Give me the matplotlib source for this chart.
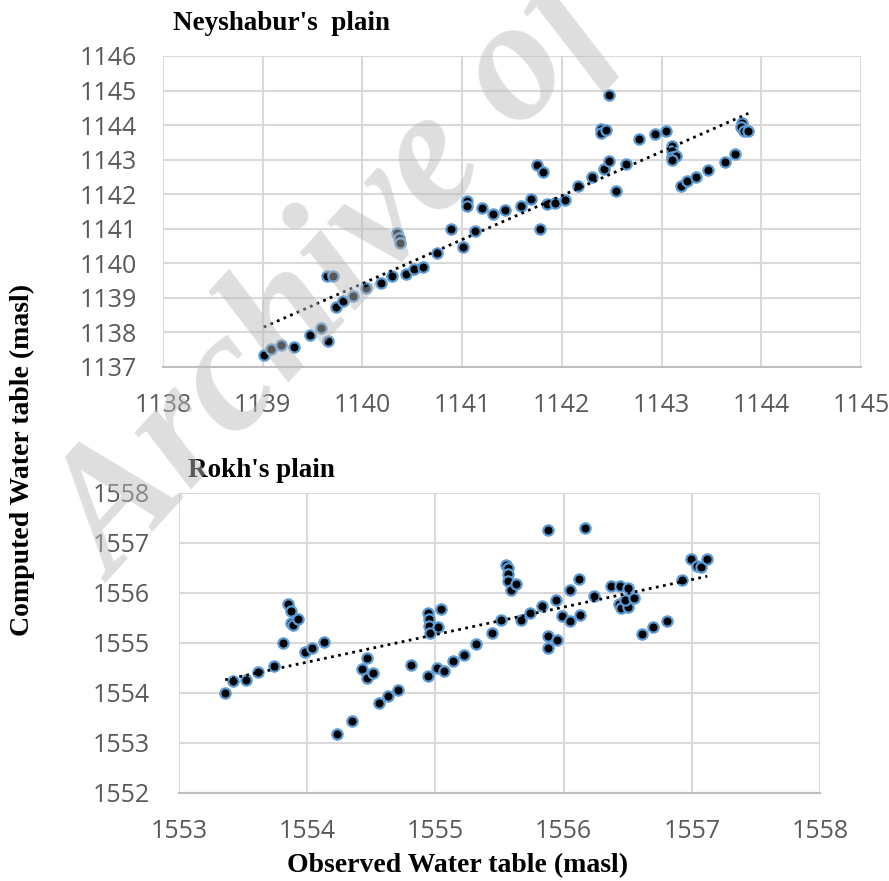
import matplotlib
matplotlib.use("Agg")
import matplotlib.pyplot as plt
import numpy as np

# Neyshabur's plain: observed vs computed (masl)
ney_obs = [1139.01, 1139.08, 1139.18, 1139.31, 1139.47, 1139.58, 1139.65, 1139.64,
           1139.70, 1139.73, 1139.81, 1139.91, 1140.04, 1140.19, 1140.30, 1140.44,
           1140.52, 1140.61, 1140.35, 1140.37, 1140.38, 1140.75, 1140.89, 1141.01,
           1141.13, 1141.05, 1141.05, 1141.20, 1141.31, 1141.43, 1141.59, 1141.69,
           1141.78, 1141.75, 1141.81, 1141.85, 1141.93, 1142.03, 1142.16, 1142.30,
           1142.42, 1142.47, 1142.39, 1142.39, 1142.44, 1142.47, 1142.54, 1142.64,
           1142.77, 1142.93, 1143.04, 1143.10, 1143.10, 1143.10, 1143.14, 1143.10,
           1143.19, 1143.25, 1143.35, 1143.47, 1143.64, 1143.74, 1143.81, 1143.80,
           1143.83, 1143.87]
ney_com = [1137.35, 1137.53, 1137.64, 1137.59, 1137.94, 1138.13, 1137.75, 1139.64,
           1139.62, 1138.75, 1138.91, 1139.06, 1139.30, 1139.44, 1139.62, 1139.68,
           1139.83, 1139.88, 1140.88, 1140.73, 1140.59, 1140.30, 1140.99, 1140.47,
           1140.95, 1141.79, 1141.65, 1141.60, 1141.43, 1141.53, 1141.65, 1141.87,
           1140.99, 1142.86, 1142.64, 1141.72, 1141.76, 1141.84, 1142.25, 1142.50,
           1142.73, 1142.95, 1143.89, 1143.77, 1143.85, 1144.88, 1142.08, 1142.87,
           1143.60, 1143.75, 1143.82, 1143.39, 1143.24, 1143.08, 1143.10, 1143.00,
           1142.23, 1142.37, 1142.51, 1142.71, 1142.92, 1143.17, 1144.06, 1143.95,
           1143.82, 1143.82]

# Rokh's plain
rokh_obs = [1553.36, 1553.42, 1553.52, 1553.62, 1553.74, 1553.81, 1553.85, 1553.87,
            1553.87, 1553.89, 1553.93, 1553.98, 1554.04, 1554.13, 1554.23, 1554.35,
            1554.43, 1554.47, 1554.47, 1554.51, 1554.56, 1554.63, 1554.71, 1554.81,
            1554.94, 1554.94, 1554.95, 1554.95, 1554.96, 1555.02, 1555.04, 1555.01,
            1555.07, 1555.14, 1555.22, 1555.32, 1555.44, 1555.51, 1555.55, 1555.57,
            1555.57, 1555.57, 1555.59, 1555.63, 1555.67, 1555.74, 1555.83, 1555.88,
            1555.88, 1555.95, 1555.88, 1555.94, 1555.99, 1556.05, 1556.05, 1556.12,
            1556.13, 1556.17, 1556.24, 1556.37, 1556.44, 1556.50, 1556.43, 1556.45,
            1556.50, 1556.48, 1556.55, 1556.61, 1556.70, 1556.81, 1556.92, 1556.99,
            1557.04, 1557.07, 1557.12]
rokh_com = [1553.99, 1554.23, 1554.26, 1554.41, 1554.53, 1554.99, 1555.77, 1555.63,
            1555.39, 1555.36, 1555.47, 1554.81, 1554.89, 1555.01, 1553.17, 1553.44,
            1554.47, 1554.69, 1554.29, 1554.39, 1553.79, 1553.93, 1554.05, 1554.55,
            1554.34, 1555.59, 1555.47, 1555.33, 1555.19, 1555.31, 1555.67, 1554.49,
            1554.43, 1554.64, 1554.76, 1554.98, 1555.19, 1555.46, 1556.56, 1556.49,
            1556.38, 1556.23, 1556.05, 1556.18, 1555.46, 1555.59, 1555.73, 1557.26,
            1555.13, 1555.06, 1554.89, 1555.85, 1555.54, 1555.43, 1556.06, 1556.28,
            1555.56, 1557.29, 1555.94, 1556.13, 1556.13, 1556.09, 1555.78, 1555.69,
            1555.71, 1555.85, 1555.89, 1555.18, 1555.31, 1555.43, 1556.25, 1556.67,
            1556.54, 1556.51, 1556.67]

ney_xticks = np.arange(1138, 1146)
ney_yticks = np.arange(1137, 1147)
rokh_xticks = np.arange(1553, 1559)
rokh_yticks = np.arange(1552, 1559)

BLUE = '#5B9BD5'
TICK_COL = '#595959'
GRID_COL = '#D9D9D9'

fig = plt.figure(figsize=(8.89, 8.81), dpi=100)
ax1 = fig.add_axes([163 / 889, 1 - 367 / 881, 698 / 889, 311 / 881])
ax2 = fig.add_axes([179 / 889, 1 - 793 / 881, 641 / 889, 300 / 881])


def style(ax, xt, yt):
    ax.set_xlim(xt[0], xt[-1])
    ax.set_ylim(yt[0], yt[-1])
    ax.set_xticks(xt)
    ax.set_yticks(yt)
    ax.grid(True, color=GRID_COL, lw=1.5)
    ax.set_axisbelow(True)
    for s in ['top', 'right', 'left']:
        ax.spines[s].set_visible(False)
    ax.spines['bottom'].set_color('#BFBFBF')
    ax.spines['bottom'].set_linewidth(1.5)
    ax.tick_params(axis='y', length=0, labelsize=18, labelcolor=TICK_COL, pad=19)
    ax.tick_params(axis='x', length=0, labelsize=18, labelcolor=TICK_COL, pad=18.5)
    for lab in ax.get_xticklabels() + ax.get_yticklabels():
        lab.set_family('Open Sans')


def trend(ax, x, y):
    x = np.asarray(x)
    k, b = np.polyfit(x, y, 1)
    xs = np.array([x.min(), x.max()])
    ax.plot(xs, k * xs + b, color='black', lw=2, ls=(0, (1, 1.6)), zorder=4)


style(ax1, ney_xticks, ney_yticks)
ax1.scatter(ney_obs, ney_com, s=55, c='black', edgecolors=BLUE, linewidths=1.6, zorder=3)
trend(ax1, ney_obs, ney_com)

style(ax2, rokh_xticks, rokh_yticks)
ax2.tick_params(axis='y', pad=21)
ax2.scatter(rokh_obs, rokh_com, s=55, c='black', edgecolors=BLUE, linewidths=1.6, zorder=3)
trend(ax2, rokh_obs, rokh_com)

serif = 'Liberation Serif'
fig.text(173 / 889, 1 - 24 / 881, "Neyshabur's  plain", family=serif, weight='bold',
         fontsize=19.5, ha='left', va='center')
fig.text(188 / 889, 1 - 471 / 881, "Rokh's plain", family=serif, weight='bold',
         fontsize=19.5, ha='left', va='center')
fig.text(22 / 889, 1 - 460 / 881, "Computed Water table (masl)", family=serif, weight='bold',
         fontsize=20, ha='center', va='center', rotation=90)
fig.text(458 / 889, 1 - 866 / 881, "Observed Water table (masl)", family=serif, weight='bold',
         fontsize=20, ha='center', va='center')

# watermark drawn over the chart, semi-transparent
fig.text(115 / 889, 1 - 583 / 881, "Archive of SID", family=serif, style='italic',
         weight='bold', fontsize=125, color='#bbbbbb', alpha=0.48, rotation=47.5,
         rotation_mode='anchor', ha='left', va='baseline', zorder=10)

fig.savefig('out.png', dpi=100)
